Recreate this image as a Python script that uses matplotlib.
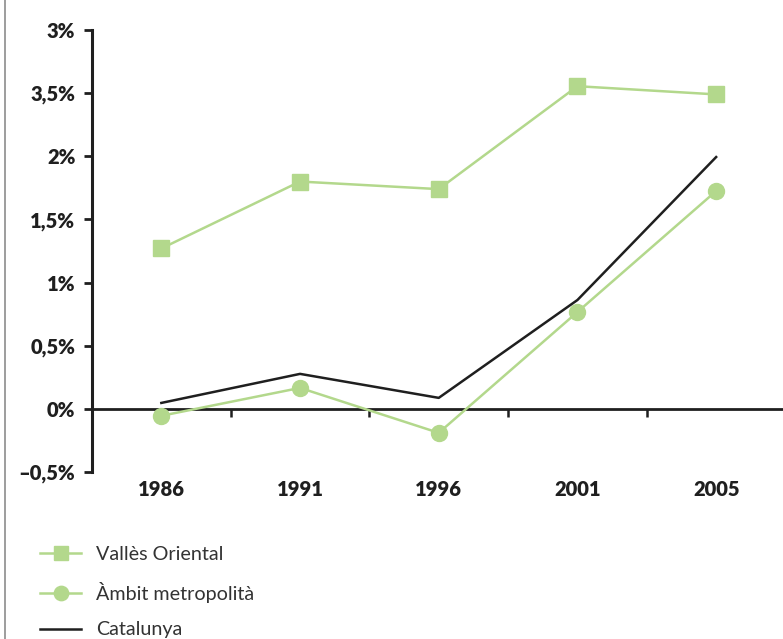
import matplotlib
matplotlib.use("Agg")
import matplotlib.pyplot as plt
from matplotlib.lines import Line2D

years = ["1986", "1991", "1996", "2001", "2005"]
valles = [1.27, 1.80, 1.74, 2.555, 2.49]
ambit = [-0.055, 0.166, -0.19, 0.767, 1.725]
catalunya = [0.047, 0.277, 0.087, 0.862, 1.994]
ytick_vals = [-0.5, 0, 0.5, 1, 1.5, 2, 2.5, 3]
ytick_labels = ["\u20130,5%", "0%", "0,5%", "1%", "1,5%", "2%", "3,5%", "3%"]

plt.rcParams['font.family'] = ['Lato', 'DejaVu Sans']

GREEN = '#b3d88c'
BLACK = '#1f1f1f'

fig = plt.figure(figsize=(7.83, 6.39), dpi=100)
ax = fig.add_axes([92/783, 1-472/639, (785.5-92)/783, (472-30)/639])

x = list(range(len(years)))
l1, = ax.plot(x, valles, color=GREEN, lw=1.8, marker='s', ms=11.5, mec=GREEN, mfc=GREEN, label='Vallès Oriental', zorder=3)
l2, = ax.plot(x, ambit, color=GREEN, lw=1.8, marker='o', ms=11.5, mec=GREEN, mfc=GREEN, label='Àmbit metropolità', zorder=3)
l3, = ax.plot(x, catalunya, color=BLACK, lw=1.8, label='Catalunya', zorder=3)

ax.set_xlim(-0.5, len(years)-0.5)
ax.set_ylim(-0.5, 3)
for s in ['top', 'right', 'bottom']:
    ax.spines[s].set_visible(False)
ax.spines['left'].set_linewidth(2.2)
ax.spines['left'].set_color(BLACK)

ax.set_yticks(ytick_vals)
ax.set_yticklabels(ytick_labels, fontsize=14.5, fontweight='heavy', color=BLACK)
ax.tick_params(axis='y', length=6, width=2, color=BLACK, pad=6)

ax.set_xticks(x)
ax.set_xticklabels(years, fontsize=14.5, fontweight='heavy', color=BLACK)
ax.tick_params(axis='x', length=0, pad=6)

# zero axis with in-between ticks
sec = ax.secondary_xaxis(0.5/3.5)
sec.spines['bottom'].set_linewidth(2)
sec.spines['bottom'].set_color(BLACK)
sec.set_xticks([i + 0.5 for i in x])
sec.set_xticklabels([])
sec.tick_params(axis='x', length=6, width=1.8, color=BLACK, direction='out')

# left border
fig.add_artist(Line2D([4.5/783, 4.5/783], [0, 1], transform=fig.transFigure, color='#8c8c8c', lw=1.2))

leg = fig.legend(handles=[l1, l2, l3], loc='upper left', bbox_to_anchor=(40/783, 1-546/639),
                 frameon=False, fontsize=14.2, handlelength=2.1, handletextpad=0.75,
                 labelspacing=0.95, markerscale=0.9, borderpad=0, borderaxespad=0)
for t in leg.get_texts():
    t.set_color('#333333')

fig.savefig('out.png', dpi=100)
